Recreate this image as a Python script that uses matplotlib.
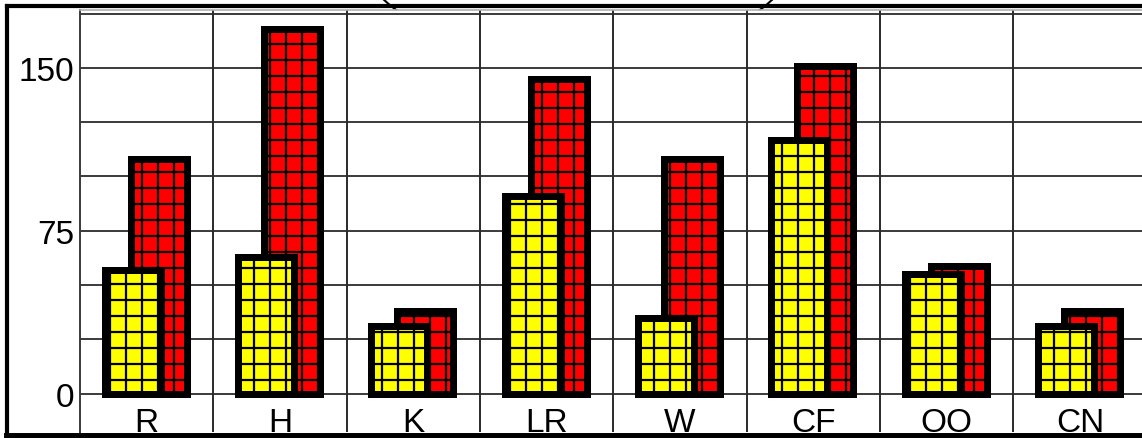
import numpy as np
import matplotlib.pyplot as plt
from matplotlib.lines import Line2D
from matplotlib.patches import Ellipse
from matplotlib.collections import LineCollection

# Chart data
categories = ['R', 'H', 'K', 'LR', 'W', 'CF', 'OO', 'CN']
yellow_vals = [57, 63, 31, 91, 35, 117, 55, 31]
red_vals = [108, 168, 38, 145, 108, 151, 59, 38]
grid_vals = [0, 25, 50, 75, 100, 125, 150, 175]
tick_labels = ['0', '', '', '75', '', '', '150', '']

plt.rcParams['font.family'] = ['Liberation Sans', 'DejaVu Sans']

W, H = 1142, 439
fig = plt.figure(figsize=(W / 100, H / 100), dpi=100)
fig.patch.set_facecolor('white')

# decorative arc peeking in at the top (part of something above the chart)
arc = Ellipse((578 / W, 1 + 60 / H), 449 / W, 242 / H, transform=fig.transFigure,
              fill=False, edgecolor='black', linewidth=1.5, zorder=-1)
fig.add_artist(arc)

# axes: left edge at x=80 px, 133.3 px per category, top 11 px, bottom 433 px
ax = fig.add_axes([80 / W, (H - 433) / H, 8 * 133.33 / W, 422 / H])
ax.set_facecolor('white')
ax.set_xlim(-0.5, len(categories) - 0.5)
ax.set_ylim(-17.7, 176.7)

x = np.arange(len(categories))
bw = 0.418
lw_edge = 5.0
red_bars = ax.bar(x + 0.09, red_vals, width=bw, color='#ff0000', edgecolor='black',
                  linewidth=lw_edge, joinstyle='miter', zorder=3)
yellow_bars = ax.bar(x - 0.105, yellow_vals, width=bw, color='#ffff00', edgecolor='black',
                     linewidth=lw_edge, joinstyle='miter', zorder=5)

# coarse square grid pattern inside the bars (about 16 px cells)
step_x = 16 / 133.33
step_y = 16 / 2.17
gx = np.arange(-0.157 - 5 * step_x, 7.6, step_x)
gy = np.arange(6.2 - step_y, 180, step_y)


def grid_in_bars(bars, z):
    for p in bars:
        x0, y0 = p.get_x(), p.get_y()
        x1, y1 = x0 + p.get_width(), y0 + p.get_height()
        segs = [[(v, y0), (v, y1)] for v in gx if x0 < v < x1]
        segs += [[(x0, v), (x1, v)] for v in gy if y0 < v < y1]
        lc = LineCollection(segs, colors='black', linewidths=1.6, zorder=z)
        ax.add_collection(lc)
        lc.set_clip_path(p)


grid_in_bars(red_bars, 3.5)
grid_in_bars(yellow_bars, 5.5)
# redraw outlines above the grid lines
for bars, z in [(red_bars, 3.6), (yellow_bars, 5.6)]:
    for p in bars:
        ax.add_patch(plt.Rectangle((p.get_x(), p.get_y()), p.get_width(), p.get_height(),
                                   fill=False, edgecolor='black', linewidth=lw_edge,
                                   joinstyle='miter', zorder=z))

# horizontal grid every 25, labelled at 0 / 75 / 150
ax.set_yticks(grid_vals)
ax.set_yticklabels(tick_labels, fontsize=24)
ax.tick_params(axis='y', length=0, pad=4)
for v in grid_vals:
    ax.plot([-0.5, len(categories) - 0.5], [v, v], color='#3a3a3a', lw=1.4, zorder=1)

# vertical dividers between categories
ax.set_xticks([])
for b in np.arange(0.5, len(categories) - 0.5, 1):
    ax.axvline(b, color='#2a2a2a', lw=1.4, zorder=1)

for i, name in enumerate(categories):
    ax.text(i, -17.3, name, ha='center', va='baseline', fontsize=24, zorder=6)

for side in ['right', 'bottom']:
    ax.spines[side].set_visible(False)
ax.spines['left'].set_color('#3a3a3a')
ax.spines['left'].set_linewidth(1.4)
ax.spines['top'].set_color('#b0b0b0')
ax.spines['top'].set_linewidth(1.2)

# thick outer frame
fig.add_artist(Line2D([7 / W, 7 / W], [3 / H, (H - 7) / H], transform=fig.transFigure,
                      color='black', lw=3, solid_capstyle='projecting', zorder=10))
fig.add_artist(Line2D([7 / W, 1.01], [(H - 7) / H, (H - 7) / H], transform=fig.transFigure,
                      color='black', lw=3, solid_capstyle='projecting', zorder=10))
fig.add_artist(Line2D([7 / W, 1.01], [2.5 / H, 2.5 / H], transform=fig.transFigure,
                      color='black', lw=5, solid_capstyle='projecting', zorder=10))

plt.savefig('out.png', dpi=100)
